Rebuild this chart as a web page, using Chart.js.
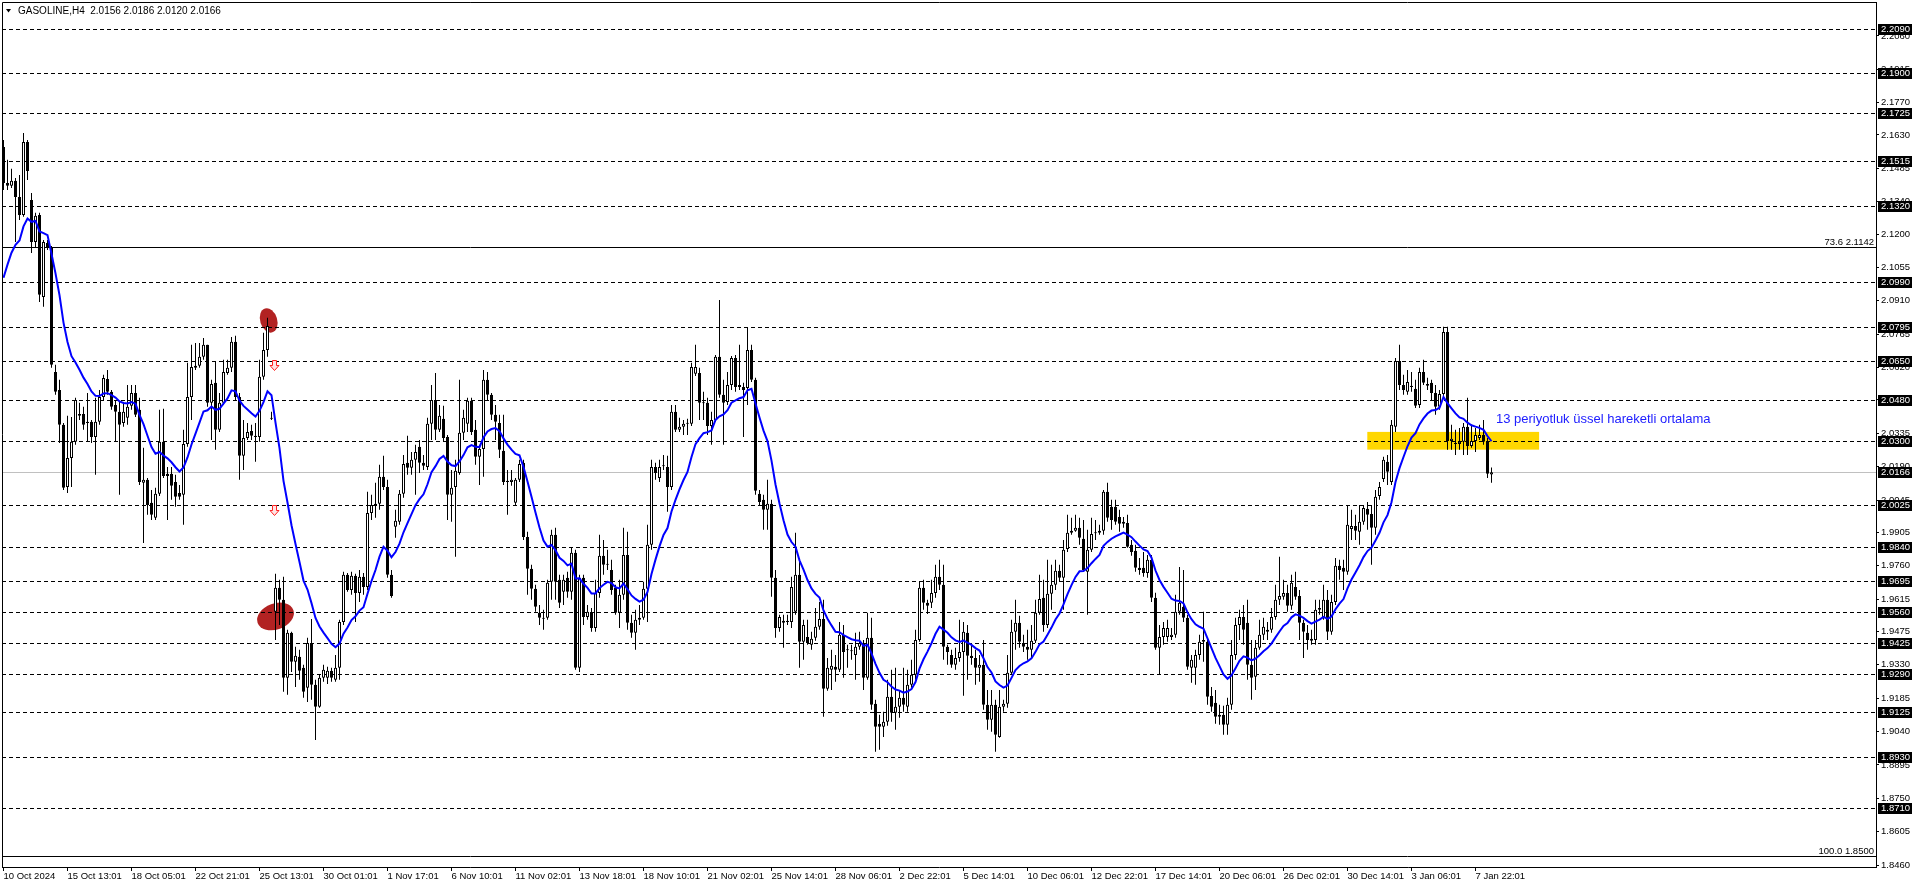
<!DOCTYPE html>
<html>
<head>
<meta charset="utf-8">
<script src="https://cdn.jsdelivr.net/npm/chart.js@4.4.1/dist/chart.umd.min.js"></script>
<style>
  html, body { margin: 0; padding: 0; background: #fff; overflow: hidden; }
  #wrap { width: 1916px; height: 888px; }
</style>
</head>
<body>
<div id="wrap"><canvas id="chart_gasoline" width="1916" height="888"></canvas></div>
<script>
// GASOLINE H4 candles, oldest first
const open = [
  2.1578, 2.1422, 2.1409, 2.1431, 2.1361, 2.1283, 2.1599, 2.1348, 2.1165, 2.1283,
  2.0927, 2.1161, 2.1140, 2.0601, 2.0523, 2.0372, 2.0102, 2.0228, 2.0298, 2.0411,
  2.0419, 2.0380, 2.0385, 2.0319, 2.0385, 2.0493, 2.0571, 2.0515, 2.0458, 2.0428,
  2.0380, 2.0402, 2.0454, 2.0510, 2.0437, 2.0120, 2.0133, 2.0033, 1.9968, 2.0072,
  2.0298, 2.0159, 2.0159, 2.0124, 2.0076, 2.0068, 2.0289, 2.0493, 2.0628, 2.0628,
  2.0667, 2.0719, 2.0467, 2.0554, 2.0350, 2.0467, 2.0597, 2.0619, 2.0732, 2.0493,
  2.0237, 2.0315, 2.0345, 2.0319, 2.0319, 2.0580, 2.0697, 2.0402, 1.9560, 1.9664,
  1.9612, 1.9274, 1.9469, 1.9343, 1.9365, 1.9317, 1.9230, 1.9425, 1.9243, 1.9148,
  1.9274, 1.9274, 1.9304, 1.9265, 1.9317, 1.9516, 1.9721, 1.9655, 1.9716, 1.9642,
  1.9712, 1.9668, 1.9989, 2.0024, 2.0029, 2.0146, 2.0102, 1.9721, 1.9929, 1.9951,
  2.0072, 2.0207, 2.0185, 2.0220, 2.0276, 2.0207, 2.0189, 2.0376, 2.0480, 2.0350,
  2.0398, 2.0319, 2.0068, 2.0102, 2.0163, 2.0337, 2.0376, 2.0476, 2.0350, 2.0233,
  2.0267, 2.0567, 2.0502, 2.0415, 2.0380, 2.0259, 2.0129, 2.0124, 2.0033, 2.0133,
  2.0207, 1.9885, 1.9747, 1.9660, 1.9556, 1.9534, 1.9534, 1.9690, 1.9894, 1.9699,
  1.9647, 1.9708, 1.9647, 1.9816, 1.9317, 1.9708, 1.9538, 1.9556, 1.9490, 1.9642,
  1.9803, 1.9766, 1.9742, 1.9664, 1.9556, 1.9634, 1.9807, 1.9512, 1.9469, 1.9525,
  1.9534, 1.9660, 1.9851, 2.0189, 2.0141, 2.0194, 2.0189, 2.0102, 2.0428, 2.0350,
  2.0363, 2.0376, 2.0376, 2.0593, 2.0597, 2.0467, 2.0467, 2.0367, 2.0393, 2.0667,
  2.0502, 2.0471, 2.0545, 2.0662, 2.0536, 2.0536, 2.0532, 2.0697, 2.0567, 2.0072,
  2.0046, 2.0003, 2.0029, 1.9708, 1.9490, 1.9512, 1.9516, 1.9516, 1.9560, 1.9721,
  1.9430, 1.9451, 1.9417, 1.9447, 1.9495, 1.9529, 1.9226, 1.9308, 1.9321, 1.9308,
  1.9460, 1.9397, 1.9393, 1.9373, 1.9408, 1.9425, 1.9274, 1.9447, 1.9161, 1.9074,
  1.9061, 1.9083, 1.9191, 1.9122, 1.9148, 1.9187, 1.9148, 1.9243, 1.9287, 1.9438,
  1.9664, 1.9599, 1.9599, 1.9642, 1.9712, 1.9677, 1.9408, 1.9373, 1.9330, 1.9360,
  1.9386, 1.9469, 1.9369, 1.9360, 1.9317, 1.9330, 1.9156, 1.9091, 1.9156, 1.9017,
  1.9148, 1.9161, 1.9295, 1.9473, 1.9512, 1.9425, 1.9408, 1.9395, 1.9434, 1.9556,
  1.9621, 1.9503, 1.9638, 1.9677, 1.9738, 1.9708, 1.9833, 1.9903, 1.9912, 1.9925,
  1.9877, 1.9734, 1.9829, 1.9903, 1.9903, 1.9912, 2.0081, 2.0016, 2.0016, 1.9972,
  1.9942, 1.9946, 1.9851, 1.9825, 1.9751, 1.9751, 1.9729, 1.9786, 1.9621, 1.9404,
  1.9451, 1.9451, 1.9451, 1.9460, 1.9560, 1.9582, 1.9534, 1.9317, 1.9317, 1.9373,
  1.9430, 1.9430, 1.9195, 1.9165, 1.9104, 1.9113, 1.9070, 1.9156, 1.9373, 1.9503,
  1.9538, 1.9512, 1.9330, 1.9278, 1.9404, 1.9460, 1.9473, 1.9482, 1.9538, 1.9612,
  1.9625, 1.9642, 1.9586, 1.9668, 1.9629, 1.9512, 1.9469, 1.9434, 1.9438, 1.9569,
  1.9538, 1.9612, 1.9473, 1.9603, 1.9760, 1.9751, 1.9734, 1.9920, 1.9933, 1.9907,
  1.9951, 2.0007, 1.9985, 1.9925, 2.0063, 2.0137, 2.0211, 2.0124, 2.0363, 2.0649,
  2.0545, 2.0515, 2.0536, 2.0528, 2.0458, 2.0601, 2.0541, 2.0554, 2.0510, 2.0450,
  2.0506, 2.0775, 2.0302, 2.0293, 2.0289, 2.0298, 2.0363, 2.0280, 2.0302, 2.0315,
  2.0328, 2.0298, 2.0156
];
const high = [
  2.1608, 2.1522, 2.1483, 2.1443, 2.1456, 2.1639, 2.1608, 2.1378, 2.1292, 2.1292,
  2.1174, 2.1174, 2.1148, 2.0632, 2.0567, 2.0380, 2.0411, 2.0406, 2.0489, 2.0467,
  2.0450, 2.0510, 2.0393, 2.0489, 2.0523, 2.0589, 2.0610, 2.0523, 2.0480, 2.0471,
  2.0471, 2.0545, 2.0545, 2.0545, 2.0489, 2.0272, 2.0141, 2.0089, 2.0098, 2.0437,
  2.0441, 2.0189, 2.0189, 2.0155, 2.0111, 2.0350, 2.0641, 2.0719, 2.0727, 2.0727,
  2.0749, 2.0719, 2.0567, 2.0645, 2.0510, 2.0654, 2.0654, 2.0753, 2.0758, 2.0510,
  2.0393, 2.0380, 2.0372, 2.0380, 2.0654, 2.0771, 2.0836, 2.0428, 1.9725, 1.9699,
  1.9712, 1.9482, 1.9473, 1.9408, 1.9395, 1.9330, 1.9447, 1.9529, 1.9265, 1.9287,
  1.9330, 1.9321, 1.9317, 1.9373, 1.9525, 1.9734, 1.9729, 1.9734, 1.9725, 1.9742,
  1.9729, 2.0081, 2.0068, 2.0120, 2.0198, 2.0237, 2.0133, 1.9742, 2.0003, 2.0089,
  2.0241, 2.0324, 2.0254, 2.0285, 2.0306, 2.0241, 2.0402, 2.0545, 2.0597, 2.0458,
  2.0454, 2.0328, 2.0176, 2.0220, 2.0567, 2.0437, 2.0489, 2.0489, 2.0393, 2.0285,
  2.0610, 2.0601, 2.0510, 2.0458, 2.0415, 2.0415, 2.0176, 2.0176, 2.0141, 2.0220,
  2.0220, 1.9907, 1.9764, 1.9677, 1.9590, 1.9569, 1.9699, 1.9916, 1.9925, 1.9721,
  1.9721, 1.9734, 1.9838, 1.9829, 1.9721, 1.9721, 1.9590, 1.9577, 1.9699, 1.9894,
  1.9872, 1.9829, 1.9786, 1.9677, 1.9699, 1.9925, 1.9907, 1.9547, 1.9569, 1.9590,
  1.9690, 1.9938, 2.0220, 2.0207, 2.0220, 2.0241, 2.0237, 2.0458, 2.0458, 2.0402,
  2.0393, 2.0398, 2.0641, 2.0719, 2.0619, 2.0515, 2.0489, 2.0428, 2.0675, 2.0914,
  2.0567, 2.0601, 2.0671, 2.0675, 2.0719, 2.0554, 2.0792, 2.0719, 2.0576, 2.0089,
  2.0068, 2.0133, 2.0046, 1.9742, 1.9547, 1.9547, 1.9547, 1.9712, 1.9903, 1.9786,
  1.9525, 1.9525, 1.9473, 1.9577, 1.9603, 1.9612, 1.9360, 1.9395, 1.9373, 1.9516,
  1.9503, 1.9417, 1.9417, 1.9469, 1.9473, 1.9438, 1.9556, 1.9534, 1.9178, 1.9113,
  1.9126, 1.9265, 1.9308, 1.9317, 1.9221, 1.9317, 1.9308, 1.9352, 1.9482, 1.9690,
  1.9699, 1.9612, 1.9699, 1.9764, 1.9786, 1.9764, 1.9417, 1.9395, 1.9404, 1.9525,
  1.9516, 1.9503, 1.9417, 1.9395, 1.9373, 1.9438, 1.9221, 1.9221, 1.9178, 1.9221,
  1.9178, 1.9373, 1.9525, 1.9612, 1.9543, 1.9460, 1.9482, 1.9503, 1.9612, 1.9721,
  1.9699, 1.9786, 1.9764, 1.9786, 1.9764, 1.9872, 1.9981, 1.9968, 1.9981, 1.9968,
  1.9959, 1.9916, 1.9968, 1.9959, 1.9938, 2.0089, 2.0120, 2.0046, 2.0046, 2.0003,
  1.9972, 1.9981, 1.9872, 1.9851, 1.9794, 1.9820, 1.9807, 1.9807, 1.9643, 1.9503,
  1.9516, 1.9525, 1.9490, 1.9634, 1.9755, 1.9742, 1.9547, 1.9373, 1.9395, 1.9460,
  1.9560, 1.9438, 1.9234, 1.9221, 1.9156, 1.9152, 1.9187, 1.9438, 1.9534, 1.9569,
  1.9590, 1.9612, 1.9438, 1.9438, 1.9525, 1.9534, 1.9516, 1.9577, 1.9677, 1.9799,
  1.9699, 1.9677, 1.9721, 1.9734, 1.9655, 1.9525, 1.9503, 1.9482, 1.9612, 1.9612,
  1.9677, 1.9655, 1.9634, 1.9794, 1.9786, 1.9786, 2.0024, 2.0003, 1.9981, 2.0024,
  2.0024, 2.0037, 2.0024, 2.0089, 2.0124, 2.0233, 2.0241, 2.0393, 2.0662, 2.0719,
  2.0589, 2.0610, 2.0601, 2.0567, 2.0619, 2.0654, 2.0576, 2.0567, 2.0545, 2.0523,
  2.0797, 2.0797, 2.0372, 2.0350, 2.0358, 2.0380, 2.0489, 2.0372, 2.0358, 2.0372,
  2.0393, 2.0315, 2.0186
];
const low = [
  2.1391, 2.1391, 2.1400, 2.1165, 2.1261, 2.1275, 2.1435, 2.1118, 2.1140, 2.0905,
  2.0884, 2.1131, 2.0619, 2.0502, 2.0293, 2.0089, 2.0076, 2.0102, 2.0285, 2.0393,
  2.0350, 2.0298, 2.0293, 2.0155, 2.0372, 2.0480, 2.0502, 2.0437, 2.0298, 2.0068,
  2.0363, 2.0372, 2.0437, 2.0406, 2.0111, 1.9859, 1.9981, 1.9959, 1.9959, 2.0063,
  2.0141, 1.9959, 2.0046, 2.0016, 2.0046, 1.9938, 2.0276, 2.0393, 2.0610, 2.0619,
  2.0654, 2.0450, 2.0306, 2.0263, 2.0341, 2.0458, 2.0589, 2.0601, 2.0480, 2.0133,
  2.0176, 2.0306, 2.0306, 2.0211, 2.0298, 2.0567, 2.0667, 2.0393, 1.9438, 1.9503,
  1.9213, 1.9200, 1.9299, 1.9234, 1.9265, 1.9187, 1.9169, 1.9178, 1.9004, 1.9143,
  1.9256, 1.9247, 1.9256, 1.9256, 1.9265, 1.9503, 1.9647, 1.9634, 1.9516, 1.9603,
  1.9634, 1.9655, 1.9959, 1.9968, 2.0003, 2.0089, 1.9708, 1.9621, 1.9881, 1.9938,
  2.0055, 2.0155, 2.0155, 2.0068, 2.0163, 2.0176, 2.0176, 2.0306, 2.0306, 2.0341,
  2.0298, 1.9959, 1.9951, 1.9799, 2.0155, 2.0306, 2.0341, 2.0328, 2.0198, 2.0111,
  2.0146, 2.0480, 2.0393, 2.0306, 2.0228, 2.0111, 1.9981, 2.0107, 2.0020, 2.0124,
  1.9872, 1.9634, 1.9612, 1.9560, 1.9503, 1.9482, 1.9525, 1.9612, 1.9612, 1.9577,
  1.9590, 1.9621, 1.9612, 1.9308, 1.9299, 1.9503, 1.9525, 1.9473, 1.9473, 1.9621,
  1.9721, 1.9742, 1.9634, 1.9547, 1.9490, 1.9612, 1.9482, 1.9447, 1.9395, 1.9503,
  1.9525, 1.9516, 1.9829, 2.0133, 2.0124, 2.0176, 1.9994, 2.0089, 2.0341, 2.0341,
  2.0328, 2.0328, 2.0367, 2.0584, 2.0393, 2.0393, 2.0328, 2.0285, 2.0385, 2.0489,
  2.0285, 2.0458, 2.0523, 2.0515, 2.0523, 2.0319, 2.0458, 2.0558, 2.0068, 2.0024,
  1.9916, 1.9916, 1.9625, 1.9447, 1.9473, 1.9404, 1.9503, 1.9490, 1.9547, 1.9317,
  1.9352, 1.9417, 1.9395, 1.9434, 1.9482, 1.9104, 1.9217, 1.9221, 1.9256, 1.9299,
  1.9274, 1.9317, 1.9352, 1.9265, 1.9395, 1.9221, 1.9265, 1.9135, 1.8952, 1.8961,
  1.9017, 1.9065, 1.9083, 1.9048, 1.9100, 1.9126, 1.9126, 1.9230, 1.9265, 1.9430,
  1.9569, 1.9551, 1.9577, 1.9621, 1.9655, 1.9352, 1.9330, 1.9317, 1.9308, 1.9343,
  1.9196, 1.9265, 1.9330, 1.9243, 1.9256, 1.9135, 1.9048, 1.9039, 1.8952, 1.9013,
  1.9126, 1.9143, 1.9287, 1.9395, 1.9404, 1.9386, 1.9352, 1.9360, 1.9425, 1.9547,
  1.9473, 1.9490, 1.9569, 1.9655, 1.9690, 1.9569, 1.9820, 1.9894, 1.9907, 1.9851,
  1.9734, 1.9547, 1.9820, 1.9872, 1.9894, 1.9894, 1.9951, 1.9916, 1.9938, 1.9907,
  1.9925, 1.9838, 1.9803, 1.9734, 1.9721, 1.9712, 1.9708, 1.9603, 1.9395, 1.9287,
  1.9417, 1.9430, 1.9438, 1.9447, 1.9547, 1.9516, 1.9308, 1.9252, 1.9243, 1.9352,
  1.9343, 1.9156, 1.9126, 1.9074, 1.9070, 1.9026, 1.9026, 1.9135, 1.9352, 1.9438,
  1.9417, 1.9265, 1.9178, 1.9221, 1.9395, 1.9438, 1.9438, 1.9469, 1.9525, 1.9590,
  1.9612, 1.9560, 1.9569, 1.9612, 1.9438, 1.9360, 1.9395, 1.9417, 1.9417, 1.9547,
  1.9525, 1.9438, 1.9460, 1.9590, 1.9699, 1.9655, 1.9721, 1.9872, 1.9872, 1.9851,
  1.9938, 1.9916, 1.9764, 1.9894, 2.0046, 2.0124, 2.0111, 2.0111, 2.0341, 2.0523,
  2.0502, 2.0502, 2.0515, 2.0445, 2.0445, 2.0545, 2.0523, 2.0480, 2.0415, 2.0437,
  2.0489, 2.0263, 2.0263, 2.0241, 2.0263, 2.0241, 2.0241, 2.0272, 2.0254, 2.0306,
  2.0285, 2.0141, 2.0120
];
const close = [
  2.1422, 2.1409, 2.1431, 2.1361, 2.1283, 2.1599, 2.1474, 2.1165, 2.1279, 2.0936,
  2.1165, 2.1140, 2.0632, 2.0515, 2.0372, 2.0098, 2.0228, 2.0298, 2.0480, 2.0419,
  2.0372, 2.0385, 2.0319, 2.0385, 2.0493, 2.0575, 2.0515, 2.0450, 2.0428, 2.0372,
  2.0428, 2.0450, 2.0510, 2.0415, 2.0124, 2.0133, 2.0024, 1.9981, 2.0072, 2.0298,
  2.0150, 2.0150, 2.0107, 2.0059, 2.0059, 2.0289, 2.0493, 2.0623, 2.0619, 2.0667,
  2.0719, 2.0467, 2.0549, 2.0350, 2.0467, 2.0601, 2.0619, 2.0732, 2.0493, 2.0237,
  2.0315, 2.0341, 2.0324, 2.0324, 2.0580, 2.0697, 2.0801, 2.0398, 1.9664, 1.9612,
  1.9274, 1.9469, 1.9343, 1.9369, 1.9304, 1.9213, 1.9425, 1.9243, 1.9148, 1.9274,
  1.9308, 1.9304, 1.9274, 1.9317, 1.9516, 1.9721, 1.9655, 1.9716, 1.9642, 1.9712,
  1.9668, 1.9989, 2.0024, 2.0029, 2.0146, 2.0102, 1.9721, 1.9629, 1.9955, 2.0072,
  2.0202, 2.0185, 2.0220, 2.0254, 2.0207, 2.0194, 2.0376, 2.0480, 2.0350, 2.0411,
  2.0315, 2.0068, 2.0098, 2.0172, 2.0337, 2.0402, 2.0476, 2.0341, 2.0233, 2.0267,
  2.0567, 2.0502, 2.0415, 2.0385, 2.0263, 2.0124, 2.0124, 2.0133, 2.0133, 2.0202,
  1.9885, 1.9747, 1.9660, 1.9582, 1.9534, 1.9530, 1.9686, 1.9894, 1.9690, 1.9599,
  1.9699, 1.9647, 1.9816, 1.9317, 1.9708, 1.9538, 1.9560, 1.9490, 1.9642, 1.9803,
  1.9764, 1.9764, 1.9655, 1.9556, 1.9634, 1.9807, 1.9512, 1.9469, 1.9525, 1.9534,
  1.9660, 1.9851, 2.0189, 2.0163, 2.0189, 2.0192, 2.0102, 2.0428, 2.0350, 2.0363,
  2.0376, 2.0378, 2.0623, 2.0623, 2.0467, 2.0465, 2.0367, 2.0393, 2.0667, 2.0502,
  2.0467, 2.0545, 2.0662, 2.0536, 2.0545, 2.0523, 2.0697, 2.0567, 2.0085, 2.0037,
  2.0003, 2.0029, 1.9708, 1.9490, 1.9538, 1.9521, 1.9521, 1.9668, 1.9721, 1.9430,
  1.9503, 1.9425, 1.9443, 1.9495, 1.9529, 1.9226, 1.9317, 1.9326, 1.9308, 1.9460,
  1.9386, 1.9393, 1.9389, 1.9408, 1.9425, 1.9274, 1.9447, 1.9156, 1.9061, 1.9061,
  1.9083, 1.9191, 1.9122, 1.9148, 1.9187, 1.9156, 1.9243, 1.9287, 1.9438, 1.9664,
  1.9599, 1.9586, 1.9642, 1.9712, 1.9677, 1.9408, 1.9386, 1.9330, 1.9360, 1.9386,
  1.9473, 1.9369, 1.9360, 1.9317, 1.9330, 1.9156, 1.9091, 1.9156, 1.9026, 1.9148,
  1.9161, 1.9295, 1.9473, 1.9512, 1.9430, 1.9408, 1.9395, 1.9434, 1.9556, 1.9616,
  1.9503, 1.9638, 1.9677, 1.9738, 1.9708, 1.9829, 1.9903, 1.9912, 1.9925, 1.9881,
  1.9742, 1.9829, 1.9898, 1.9901, 1.9912, 2.0081, 1.9968, 1.9959, 1.9951, 1.9942,
  1.9951, 1.9842, 1.9820, 1.9751, 1.9742, 1.9729, 1.9786, 1.9621, 1.9404, 1.9451,
  1.9490, 1.9490, 1.9460, 1.9560, 1.9599, 1.9534, 1.9321, 1.9352, 1.9373, 1.9430,
  1.9438, 1.9191, 1.9148, 1.9104, 1.9113, 1.9070, 1.9156, 1.9373, 1.9503, 1.9538,
  1.9482, 1.9330, 1.9274, 1.9404, 1.9460, 1.9495, 1.9482, 1.9538, 1.9612, 1.9629,
  1.9642, 1.9586, 1.9686, 1.9625, 1.9512, 1.9473, 1.9438, 1.9443, 1.9569, 1.9577,
  1.9612, 1.9473, 1.9603, 1.9760, 1.9742, 1.9734, 1.9938, 1.9933, 1.9912, 1.9951,
  2.0011, 1.9981, 1.9925, 2.0059, 2.0102, 2.0220, 2.0168, 2.0372, 2.0649, 2.0545,
  2.0523, 2.0558, 2.0541, 2.0454, 2.0601, 2.0554, 2.0549, 2.0510, 2.0450, 2.0506,
  2.0775, 2.0302, 2.0311, 2.0289, 2.0298, 2.0363, 2.0280, 2.0302, 2.0328, 2.0328,
  2.0298, 2.0159, 2.0166
];

// one time label every 16 bars
const timeLabels = [
  "10 Oct 2024", "15 Oct 13:01", "18 Oct 05:01", "22 Oct 21:01", "25 Oct 13:01",
  "30 Oct 01:01", "1 Nov 17:01", "6 Nov 10:01", "11 Nov 02:01", "13 Nov 18:01",
  "18 Nov 10:01", "21 Nov 02:01", "25 Nov 14:01", "28 Nov 06:01", "2 Dec 22:01",
  "5 Dec 14:01", "10 Dec 06:01", "12 Dec 22:01", "17 Dec 14:01", "20 Dec 06:01",
  "26 Dec 02:01", "30 Dec 14:01", "3 Jan 06:01", "7 Jan 22:01"
];
const barsPerLabel = 16;

const priceTicks = [
  2.2060, 2.1915, 2.1770, 2.1630, 2.1485, 2.1340, 2.1200, 2.1055, 2.0910, 2.0765,
  2.0620, 2.0480, 2.0335, 2.0190, 2.0045, 1.9905, 1.9760, 1.9615, 1.9475, 1.9330,
  1.9185, 1.9040, 1.8895, 1.8750, 1.8605, 1.8460
];

// horizontal lines drawn by hand on the chart
const levels = [
  2.2090, 2.1900, 2.1725, 2.1515, 2.1320, 2.0990, 2.0795, 2.0650, 2.0480, 2.0300,
  2.0025, 1.9840, 1.9695, 1.9560, 1.9425, 1.9290, 1.9125, 1.8930, 1.8710
];
const fibValues = [2.1142, 1.8500];
const fibNames = ["73.6", "100.0"];
const bid = 2.0166;

const emaPeriod = 13;
const emaStart = 2.1010;

// EMA(13) of the closes, as the terminal draws it
const ema = [];
close.forEach((c, i) => {
  ema.push(i === 0 ? emaStart : ema[i - 1] + (c - ema[i - 1]) * 2 / (emaPeriod + 1));
});

const FONT = "'Liberation Sans', Arial, sans-serif";

// drawn objects, placed in chart coordinates
const zone = { from: 340.95, to: 383.9, top: 2.0341, bottom: 2.0264 };
const blobs = [
  { x: 66.3, y: 2.0825, rx: 8.5, ry: 12.5, rot: -0.3 },
  { x: 68.0, y: 1.9540, rx: 19, ry: 13, rot: -0.35 }
];
const arrows = [
  { x: 67.5, y: 2.0630 },
  { x: 67.5, y: 2.0000 }
];
const note = { x: 373.1, y: 2.0393, text: "13 periyotluk üssel hareketli ortalama" };

const overlay = {
  id: "overlay",
  beforeDatasetsDraw(chart) {
    const { ctx, chartArea: a, scales: { x, y } } = chart;
    ctx.save();

    ctx.fillStyle = "#ffd700";
    const zx0 = x.getPixelForValue(zone.from), zx1 = x.getPixelForValue(zone.to);
    const zy0 = y.getPixelForValue(zone.top), zy1 = y.getPixelForValue(zone.bottom);
    ctx.fillRect(zx0, zy0, zx1 - zx0, zy1 - zy0);

    ctx.fillStyle = "#b22222";
    blobs.forEach(b => {
      ctx.beginPath();
      ctx.ellipse(x.getPixelForValue(b.x), y.getPixelForValue(b.y), b.rx, b.ry, b.rot, 0, Math.PI * 2);
      ctx.fill();
    });

    ctx.lineWidth = 1;
    ctx.strokeStyle = "#000";
    ctx.setLineDash([4, 3]);
    levels.forEach(v => {
      const py = Math.round(y.getPixelForValue(v)) + 0.5;
      ctx.beginPath();
      ctx.moveTo(a.left, py);
      ctx.lineTo(a.right, py);
      ctx.stroke();
    });
    ctx.setLineDash([]);
    fibValues.forEach(v => {
      const py = Math.round(y.getPixelForValue(v)) + 0.5;
      ctx.beginPath();
      ctx.moveTo(a.left, py);
      ctx.lineTo(a.right, py);
      ctx.stroke();
    });

    ctx.strokeStyle = "#c0c0c0";
    const by = Math.round(y.getPixelForValue(bid)) + 0.5;
    ctx.beginPath();
    ctx.moveTo(a.left, by);
    ctx.lineTo(a.right, by);
    ctx.stroke();
    ctx.restore();
  },
  afterDraw(chart) {
    const { ctx, chartArea: a, scales: { x, y } } = chart;
    ctx.save();

    // frame top / left
    ctx.strokeStyle = "#000";
    ctx.lineWidth = 1;
    ctx.beginPath();
    ctx.moveTo(a.left + 0.5, a.bottom);
    ctx.lineTo(a.left + 0.5, a.top + 0.5);
    ctx.lineTo(a.right, a.top + 0.5);
    ctx.stroke();

    // price boxes on the axis
    ctx.font = "9.5px " + FONT;
    ctx.textBaseline = "middle";
    ctx.textAlign = "left";
    levels.concat([bid]).forEach(v => {
      const py = Math.round(y.getPixelForValue(v));
      ctx.fillStyle = "#000";
      ctx.fillRect(a.right + 2, py - 5, 34, 11);
      ctx.fillStyle = "#fff";
      ctx.fillText(v.toFixed(4), a.right + 5, py + 0.5);
    });

    // fibo captions
    ctx.fillStyle = "#000";
    ctx.textAlign = "right";
    ctx.textBaseline = "alphabetic";
    fibValues.forEach((v, i) => {
      const py = Math.round(y.getPixelForValue(v));
      ctx.fillText(fibNames[i] + " " + v.toFixed(4), a.right - 2, py - 2);
    });

    // arrows
    arrows.forEach(ar => {
      const cx = Math.round(x.getPixelForValue(ar.x)) + 0.5;
      const cy = Math.round(y.getPixelForValue(ar.y)) + 0.5;
      ctx.beginPath();
      ctx.moveTo(cx - 2, cy - 5);
      ctx.lineTo(cx + 2, cy - 5);
      ctx.lineTo(cx + 2, cy);
      ctx.lineTo(cx + 4.5, cy);
      ctx.lineTo(cx, cy + 5);
      ctx.lineTo(cx - 4.5, cy);
      ctx.lineTo(cx - 2, cy);
      ctx.closePath();
      ctx.fillStyle = "#ffe4e4";
      ctx.fill();
      ctx.strokeStyle = "#ff2020";
      ctx.stroke();
    });

    // text note
    ctx.fillStyle = "#2020ff";
    ctx.font = "13px " + FONT;
    ctx.textAlign = "left";
    ctx.textBaseline = "middle";
    ctx.fillText(note.text, x.getPixelForValue(note.x), y.getPixelForValue(note.y));

    // header
    ctx.fillStyle = "#000";
    ctx.beginPath();
    ctx.moveTo(6, 9);
    ctx.lineTo(11, 9);
    ctx.lineTo(8.5, 12.5);
    ctx.closePath();
    ctx.fill();
    ctx.font = "10px " + FONT;
    ctx.textBaseline = "middle";
    const last = close.length - 1;
    ctx.fillText("GASOLINE,H4  " + [open[last], high[last], low[last], close[last]].map(v => v.toFixed(4)).join(" "), 18, 11);
    ctx.restore();
  }
};

const idx = close.map((c, i) => i);

const chart_gasoline = new Chart("chart_gasoline", {
  type: "bar",
  data: {
    datasets: [
      {
        type: "line",
        data: idx.map(i => ({ x: i, y: ema[i] })),
        borderColor: "#0000ff",
        borderWidth: 2,
        pointRadius: 0,
        tension: 0,
        order: 0
      },
      {
        data: idx.map(i => ({ x: i, y: [open[i], close[i]] })),
        backgroundColor: idx.map(i => close[i] >= open[i] ? "#ffffff" : "#000000"),
        borderColor: "#000000",
        borderWidth: 1,
        borderSkipped: false,
        barThickness: 3,
        minBarLength: 1,
        inflateAmount: 0,
        grouped: false,
        order: 1
      },
      {
        data: idx.map(i => ({ x: i, y: [low[i], high[i]] })),
        backgroundColor: "#000000",
        borderWidth: 0,
        barThickness: 1,
        inflateAmount: 0,
        grouped: false,
        order: 2
      }
    ]
  },
  options: {
    responsive: false,
    animation: false,
    devicePixelRatio: 1,
    layout: { padding: { left: 2, top: 2, right: 0, bottom: 0 } },
    plugins: { legend: { display: false }, tooltip: { enabled: false } },
    scales: {
      x: {
        type: "linear",
        min: -0.375,
        max: 468.125,
        offset: false,
        grid: { drawOnChartArea: false, drawTicks: true, tickLength: 4, color: "#000", offset: false },
        border: { display: true, color: "#000", width: 1 },
        ticks: {
          autoSkip: false, maxRotation: 0, minRotation: 0, align: "start", padding: 0,
          color: "#000", font: { family: FONT, size: 9.5 },
          callback: (v, i) => timeLabels[i]
        },
        afterBuildTicks: s => { s.ticks = timeLabels.map((t, i) => ({ value: i * barsPerLabel })); },
        afterFit: s => { s.height = 21; s.paddingLeft = 0; s.paddingRight = 0; }
      },
      y: {
        type: "linear",
        position: "right",
        min: 1.84522,
        max: 2.22072,
        grid: { drawOnChartArea: false, drawTicks: true, tickLength: 3, color: "#000" },
        border: { display: true, color: "#000", width: 1 },
        ticks: {
          autoSkip: false, padding: 2, color: "#000", font: { family: FONT, size: 9.5 },
          callback: v => v.toFixed(4)
        },
        afterBuildTicks: s => { s.ticks = priceTicks.map(v => ({ value: v })); },
        afterFit: s => { s.width = 40; s.paddingTop = 0; s.paddingBottom = 0; }
      }
    }
  },
  plugins: [overlay]
});
</script>
</body>
</html>
